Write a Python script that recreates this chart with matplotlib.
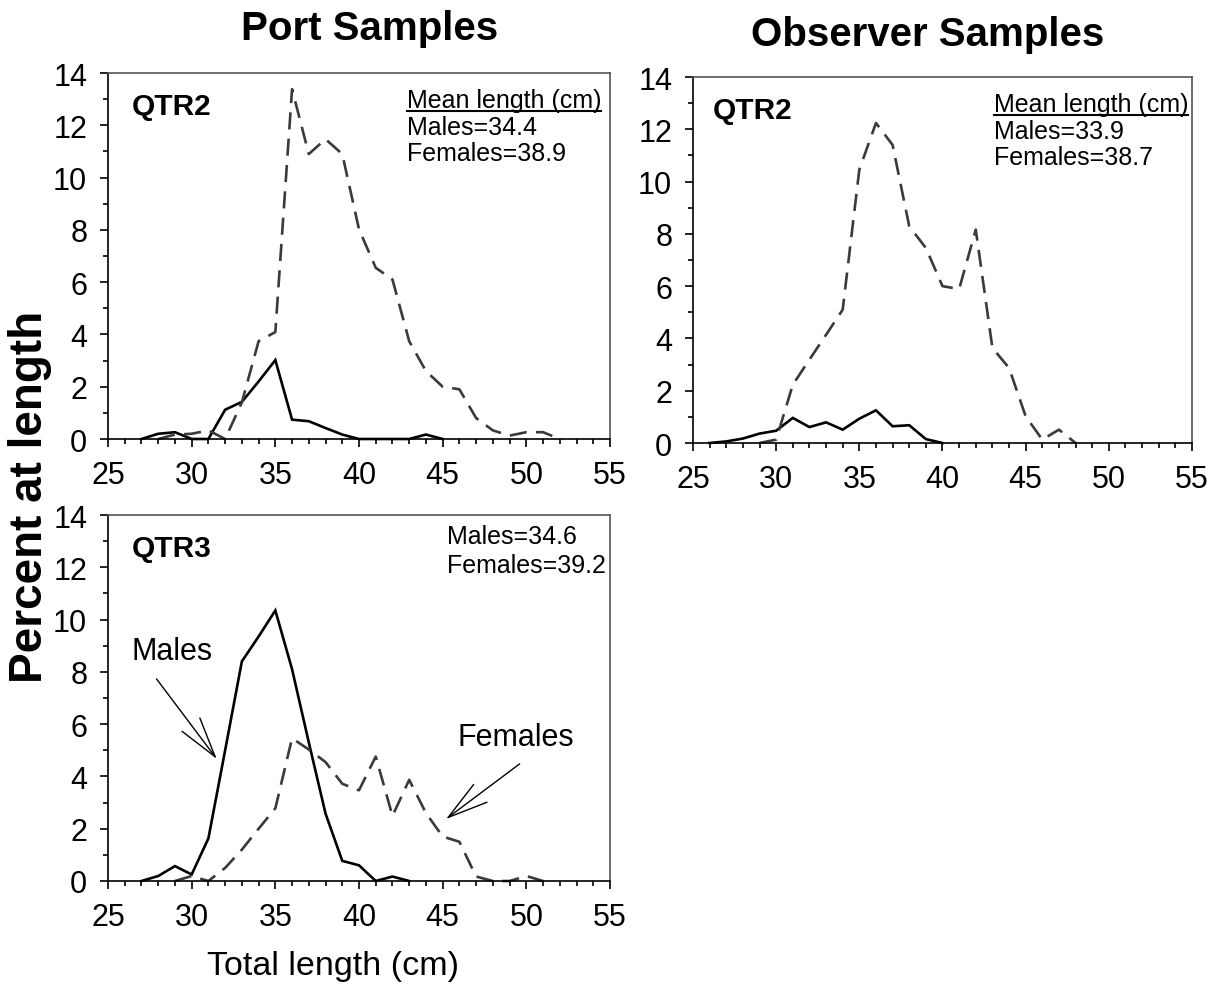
import matplotlib
matplotlib.use('Agg')
import matplotlib.pyplot as plt
from matplotlib.ticker import MultipleLocator
from matplotlib.lines import Line2D

plt.rcParams['font.family'] = ['Liberation Sans', 'DejaVu Sans']

# Port samples, quarter 2
port_q2_male_len = list(range(27, 46))
port_q2_male_pct = [0, 0.2, 0.26, 0, 0, 1.12, 1.42, 2.2, 3.02, 0.74, 0.68, 0.42, 0.17,
                    0, 0, 0, 0, 0.17, 0]
port_q2_female_len = list(range(28, 53))
port_q2_female_pct = [0, 0.17, 0.2, 0.33, 0, 1.4, 3.74, 4.09, 13.38, 10.9, 11.47, 10.9,
                      8.02, 6.55, 6.1, 3.74, 2.6, 2.0, 1.9, 0.8, 0.33, 0.13, 0.26, 0.26, 0]

# Observer samples, quarter 2
obs_q2_male_len = list(range(26, 41))
obs_q2_male_pct = [0, 0.06, 0.17, 0.36, 0.47, 0.96, 0.61, 0.79, 0.51, 0.93, 1.25, 0.64,
                   0.68, 0.15, 0]
obs_q2_female_len = list(range(29, 49))
obs_q2_female_pct = [0, 0.13, 2.23, 3.19, 4.14, 5.1, 10.46, 12.24, 11.4, 8.29, 7.46, 6.0,
                     5.89, 8.16, 3.64, 2.87, 1.02, 0.13, 0.51, 0]

# Port samples, quarter 3
port_q3_male_len = list(range(27, 44))
port_q3_male_pct = [0, 0.19, 0.57, 0.25, 1.63, 5.0, 8.4, 9.35, 10.35, 8.1, 5.3, 2.58,
                    0.77, 0.6, 0, 0.17, 0]
port_q3_female_len = list(range(29, 52))
port_q3_female_pct = [0, 0.19, 0, 0.5, 1.2, 2.0, 2.78, 5.46, 5.03, 4.55, 3.72, 3.47, 4.76,
                      2.49, 3.87, 2.6, 1.7, 1.5, 0.17, 0, 0, 0.19, 0]

mean_text = {
    'port_q2': ('Males=34.4', 'Females=38.9'),
    'obs_q2': ('Males=33.9', 'Females=38.7'),
    'port_q3': ('Males=34.6', 'Females=39.2'),
}

W, H = 1227, 995
fig = plt.figure(figsize=(W / 100, H / 100), dpi=100)


def px_axes(left, right, top, bottom):
    return fig.add_axes([left / W, 1 - bottom / H, (right - left) / W, (bottom - top) / H])


def style_axes(ax):
    ax.set_xlim(25, 55)
    ax.set_ylim(0, 14)
    ax.xaxis.set_major_locator(MultipleLocator(5))
    ax.xaxis.set_minor_locator(MultipleLocator(1))
    ax.yaxis.set_major_locator(MultipleLocator(2))
    ax.yaxis.set_minor_locator(MultipleLocator(1))
    ax.tick_params(which='both', direction='out', color='black', width=1.2)
    ax.tick_params(which='major', length=6, labelsize=22, pad=9)
    ax.tick_params(which='minor', length=3.5)
    for sp in ax.spines.values():
        sp.set_color('#555555')
        sp.set_linewidth(1.2)
    ax.spines['left'].set_color('black')
    ax.spines['bottom'].set_color('black')


def draw_series(ax, mx, my, fx, fy):
    ax.plot(mx, my, color='black', lw=1.9, solid_joinstyle='miter', clip_on=False)
    ax.plot(fx, fy, color='#3a3a3a', lw=1.9, dashes=(6.5, 3.5), clip_on=False)


ax1 = px_axes(108, 610, 74, 440)
ax2 = px_axes(693, 1192, 78, 444)
ax3 = px_axes(108, 610, 516, 882)

for ax in (ax1, ax2, ax3):
    style_axes(ax)

draw_series(ax1, port_q2_male_len, port_q2_male_pct, port_q2_female_len, port_q2_female_pct)
draw_series(ax2, obs_q2_male_len, obs_q2_male_pct, obs_q2_female_len, obs_q2_female_pct)
draw_series(ax3, port_q3_male_len, port_q3_male_pct, port_q3_female_len, port_q3_female_pct)

ax1.text(0.047, 0.888, 'QTR2', transform=ax1.transAxes, fontsize=21.5, fontweight='bold')
ax2.text(0.04, 0.888, 'QTR2', transform=ax2.transAxes, fontsize=21.5, fontweight='bold')
ax3.text(0.047, 0.888, 'QTR3', transform=ax3.transAxes, fontsize=21.5, fontweight='bold')

headers = []
for ax, key, xl in ((ax1, 'port_q2', 0.595), (ax2, 'obs_q2', 0.603)):
    headers.append((ax, ax.text(xl, 0.906, 'Mean length (cm)', transform=ax.transAxes, fontsize=18)))
    ax.text(xl, 0.834, mean_text[key][0], transform=ax.transAxes, fontsize=18)
    ax.text(xl, 0.762, mean_text[key][1], transform=ax.transAxes, fontsize=18)

ax3.text(0.675, 0.923, mean_text['port_q3'][0], transform=ax3.transAxes, fontsize=18)
ax3.text(0.675, 0.845, mean_text['port_q3'][1], transform=ax3.transAxes, fontsize=18)

# sex labels with open arrows pointing to the curves
ax3.text(28.8, 8.8, 'Males', fontsize=22, ha='center', va='center')
ax3.text(49.4, 5.5, 'Females', fontsize=22, ha='center', va='center')
arrow = dict(arrowstyle='->, head_length=2.9, head_width=0.8', lw=1.0, color='black',
             shrinkA=0, shrinkB=0)
ax3.annotate('', xy=(31.5, 4.67), xytext=(27.9, 7.73), arrowprops=arrow)
ax3.annotate('', xy=(45.2, 2.37), xytext=(49.6, 4.48), arrowprops=arrow)

fig.text(370 / W, 1 - 40 / H, 'Port Samples', fontsize=29, fontweight='bold', ha='center', va='baseline')
fig.text(928 / W, 1 - 46 / H, 'Observer Samples', fontsize=29, fontweight='bold', ha='center', va='baseline')
fig.text(30 / W, 1 - 497 / H, 'Percent at length', fontsize=33, fontweight='bold',
         rotation=90, ha='center', va='center')
fig.text(333 / W, 1 - 975 / H, 'Total length (cm)', fontsize=24.5, ha='center', va='baseline')

# underline the "Mean length (cm)" headers
fig.canvas.draw()
renderer = fig.canvas.get_renderer()
for ax, t in headers:
    bb = t.get_window_extent(renderer)
    y = bb.y0 + 1
    fig.add_artist(Line2D([bb.x0 / W, bb.x1 / W], [y / H, y / H], transform=fig.transFigure,
                          color='black', lw=1.5))

fig.savefig('out.png', dpi=100)
